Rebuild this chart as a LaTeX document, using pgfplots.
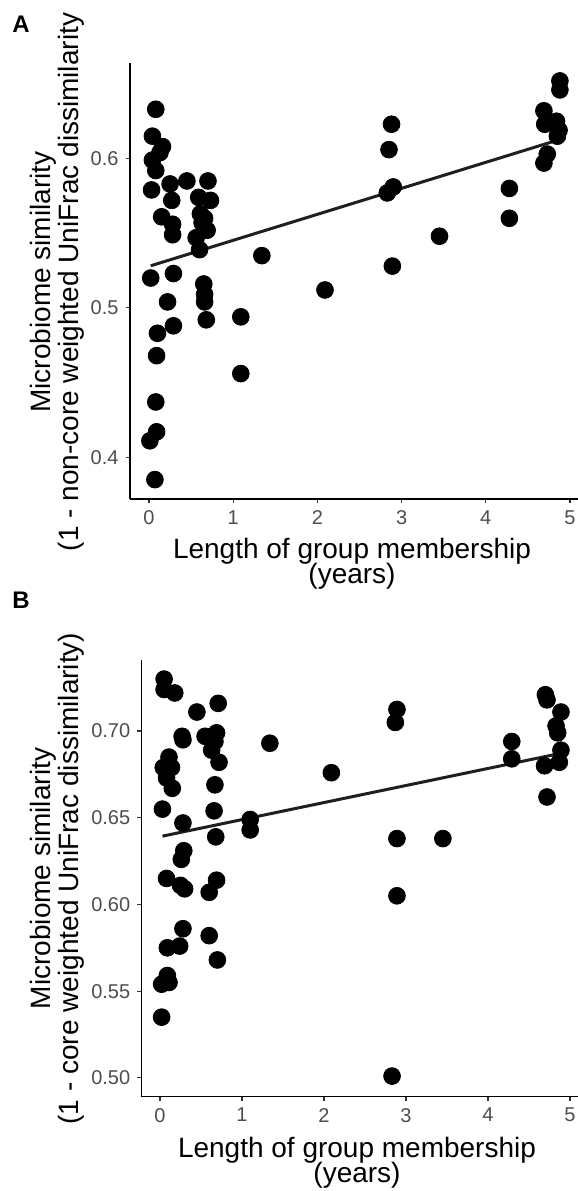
\documentclass[border=0pt]{standalone}
\usepackage{pgfplots}
\pgfplotsset{compat=1.18}
\usepackage{fontspec}
\setmainfont{Liberation Sans}

\definecolor{ticktext}{HTML}{4D4D4D}
\definecolor{tickline}{HTML}{333333}

\pgfplotsset{
  panel/.style={
    scale only axis, anchor=south west, clip=false,
    axis x line=bottom, axis y line=left,
    axis line style={-, line width=0.65pt, black},
    tick align=outside, major tick length=2.2pt,
    tick style={tickline, line width=0.6pt},
    ticklabel style={font=\fontsize{10}{12}\selectfont, text=ticktext},
    xtick={0,1,2,3,4,5}, xticklabels={0,1,2,3,4,5},
  },
  dots/.style={only marks, mark=*, mark size=4.2pt, black},
  fit/.style={no marks, line width=1.5pt, black!88},
}

\begin{document}
\begin{tikzpicture}
\useasboundingbox (0,0) rectangle (289pt,-595.5pt);

% ---- panel A ----
\begin{axis}[panel,
  at={(65pt,-249.5pt)}, width=224pt, height=218pt,
  xmin=-0.226, xmax=5.095, ymin=0.372, ymax=0.664,
  ytick={0.4,0.5,0.6}, yticklabels={0.4,0.5,0.6}]
\addplot[dots] coordinates {
 (0.08,0.633) (0.04,0.615) (0.16,0.608) (0.13,0.604) (0.04,0.599)
 (0.08,0.592) (0.03,0.579) (0.25,0.583) (0.45,0.585) (0.70,0.585)
 (0.27,0.572) (0.59,0.574) (0.73,0.572) (0.15,0.561) (0.28,0.556)
 (0.28,0.549) (0.61,0.563) (0.63,0.557) (0.69,0.552) (0.56,0.547)
 (0.60,0.539) (0.66,0.560) (1.34,0.535) (0.02,0.520) (0.29,0.523)
 (0.65,0.516) (0.66,0.509) (0.66,0.504) (0.22,0.504) (0.68,0.492)
 (1.09,0.494) (0.10,0.483) (0.29,0.488) (0.09,0.468) (1.09,0.456)
 (0.08,0.437) (0.09,0.417) (0.01,0.411) (0.07,0.385) (2.09,0.512)
 (2.89,0.528) (3.45,0.548) (2.83,0.577) (2.90,0.581) (2.85,0.606)
 (2.88,0.623) (4.28,0.580) (4.28,0.560) (4.69,0.597) (4.73,0.603)
 (4.69,0.632) (4.70,0.623) (4.84,0.625) (4.87,0.619) (4.85,0.615)
 (4.88,0.652) (4.88,0.646)
};
\addplot[fit] coordinates {(0.02,0.5282) (4.88,0.6128)};
\end{axis}

% ---- panel B ----
\begin{axis}[panel,
  at={(70.85pt,-548.35pt)}, width=218.15pt, height=218.35pt,
  xmin=-0.223, xmax=5.098, ymin=0.4891, ymax=0.741,
  ytick={0.50,0.55,0.60,0.65,0.70},
  yticklabels={0.50,0.55,0.60,0.65,0.70}]
\addplot[dots] coordinates {
 (0.05,0.730) (0.05,0.724) (0.18,0.722) (0.45,0.711) (0.71,0.716)
 (0.28,0.695) (0.27,0.697) (0.55,0.697) (0.69,0.699) (0.67,0.694)
 (0.63,0.689) (0.72,0.682) (0.11,0.685) (0.04,0.679) (0.14,0.679)
 (0.08,0.673) (0.15,0.667) (0.67,0.669) (0.03,0.655) (0.66,0.654)
 (0.28,0.647) (0.68,0.639) (0.29,0.631) (0.26,0.626) (0.08,0.615)
 (0.25,0.611) (0.30,0.609) (0.69,0.614) (0.60,0.607) (0.28,0.586)
 (0.60,0.582) (0.70,0.568) (0.09,0.575) (0.24,0.576) (0.09,0.559)
 (0.11,0.555) (0.02,0.554) (0.02,0.535) (1.10,0.649) (1.10,0.643)
 (1.34,0.693) (2.09,0.676) (2.89,0.7125) (2.87,0.705) (2.89,0.638)
 (3.45,0.638) (2.89,0.605) (4.29,0.694) (4.29,0.684) (4.70,0.721)
 (4.72,0.718) (4.89,0.711) (4.83,0.703) (4.85,0.699) (4.89,0.689)
 (4.69,0.680) (4.87,0.682) (4.72,0.662) (2.83,0.501)
};
\addplot[fit] coordinates {(0.03,0.6394) (4.88,0.6871)};
\end{axis}

% ---- titles and labels ----
\node[anchor=base west, inner sep=0, font=\fontsize{12}{14}\selectfont\bfseries] at (6pt,-16pt) {A};
\node[anchor=base west, inner sep=0, font=\fontsize{12}{14}\selectfont\bfseries] at (6pt,-304pt) {B};

\begin{scope}[every node/.style={inner sep=0, font=\fontsize{14}{16}\selectfont}]
\node[anchor=base] at (176pt,-279pt) {Length of group membership};
\node[anchor=base] at (176pt,-291.5pt) {(years)};
\node[anchor=base] at (178.5pt,-578.5pt) {Length of group membership};
\node[anchor=base] at (178.5pt,-591pt) {(years)};
\node[anchor=base, rotate=90] at (25pt,-141pt) {Microbiome similarity};
\node[anchor=base, rotate=90] at (39pt,-141pt) {(1 - non-core weighted UniFrac dissimilarity};
\node[anchor=base, rotate=90] at (25pt,-439.25pt) {Microbiome similarity};
\node[anchor=base, rotate=90] at (39pt,-439.25pt) {(1 - core weighted UniFrac dissimilarity)};
\end{scope}
\end{tikzpicture}
\end{document}
